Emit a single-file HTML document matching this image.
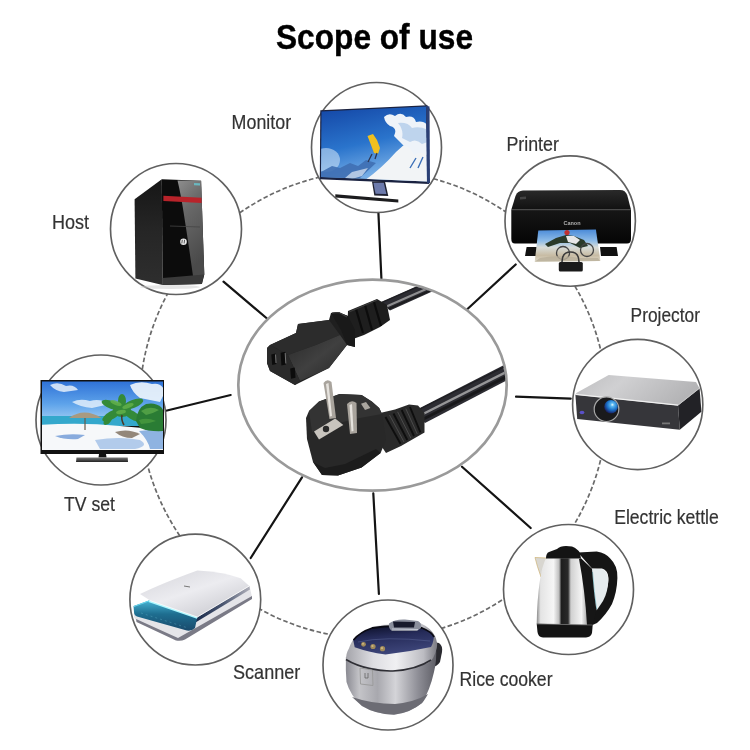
<!DOCTYPE html>
<html><head><meta charset="utf-8">
<style>
html,body{margin:0;padding:0;background:#fff;width:750px;height:750px;overflow:hidden}
svg{display:block;will-change:transform;filter:blur(0.3px)}
text{font-family:"Liberation Sans",sans-serif}
</style></head>
<body>
<svg width="750" height="750" viewBox="0 0 750 750">
<rect width="750" height="750" fill="#ffffff"/>
<!-- title -->
<text x="276" y="49" font-size="35" font-weight="bold" fill="#000" stroke="#000" stroke-width="0.4" textLength="197" lengthAdjust="spacingAndGlyphs">Scope of use</text>
<!-- labels -->
<g fill="#333" font-size="20.6" stroke="#333" stroke-width="0.2">
<text x="231.6" y="129.1" textLength="59.5" lengthAdjust="spacingAndGlyphs">Monitor</text>
<text x="52.0" y="228.5" textLength="37.1" lengthAdjust="spacingAndGlyphs">Host</text>
<text x="506.4" y="150.7" textLength="52.5" lengthAdjust="spacingAndGlyphs">Printer</text>
<text x="630.6" y="322.3" textLength="69.3" lengthAdjust="spacingAndGlyphs">Projector</text>
<text x="614.2" y="524.4" textLength="104.6" lengthAdjust="spacingAndGlyphs">Electric kettle</text>
<text x="459.5" y="685.7" textLength="93.0" lengthAdjust="spacingAndGlyphs">Rice cooker</text>
<text x="233.0" y="678.6" textLength="67.3" lengthAdjust="spacingAndGlyphs">Scanner</text>
<text x="64.0" y="511.2" textLength="51.0" lengthAdjust="spacingAndGlyphs">TV set</text>
</g>
<!-- dashed circle -->
<circle cx="373.4" cy="404.7" r="233.8" fill="none" stroke="#6a6a6a" stroke-width="1.7" stroke-dasharray="4.6 2.4"/>
<!-- connector lines -->
<g stroke="#141414" stroke-width="2.2" stroke-linecap="round">
<line x1="378.4" y1="212.6" x2="381.4" y2="278.5"/>
<line x1="467.2" y1="309.3" x2="515.7" y2="264.5"/>
<line x1="516" y1="396.7" x2="570.7" y2="398.7"/>
<line x1="462" y1="466.7" x2="530.7" y2="528"/>
<line x1="373.3" y1="493.3" x2="378.9" y2="594"/>
<line x1="302" y1="477.3" x2="250.7" y2="558"/>
<line x1="166" y1="410.7" x2="230.7" y2="395"/>
<line x1="223.5" y1="281.7" x2="267" y2="318.5"/>
</g>
<!-- central ellipse -->
<ellipse cx="372.5" cy="385.1" rx="134.2" ry="105.5" fill="#fff" stroke="#9a9a9a" stroke-width="2.7"/>
<!-- central cord -->
<g id="cord">
<defs>
<linearGradient id="cab" x1="0" y1="0" x2="0" y2="1">
<stop offset="0" stop-color="#111"/><stop offset="0.45" stop-color="#444"/><stop offset="0.6" stop-color="#666"/><stop offset="1" stop-color="#111"/>
</linearGradient>
<linearGradient id="side13" x1="0" y1="0" x2="1" y2="1">
<stop offset="0" stop-color="#2a2a2a"/><stop offset="0.5" stop-color="#404040"/><stop offset="1" stop-color="#262626"/>
</linearGradient>
</defs>
<!-- upper cable -->
<clipPath id="ellclip"><ellipse cx="372.5" cy="385.1" rx="133" ry="104.3"/></clipPath>
<g clip-path="url(#ellclip)">
<path d="M381,302 L445,273.8 L445,285.8 L390,310.4 Z" fill="#2c2c32"/>
<path d="M386.5,306.6 L445,280.8" stroke="#8e8e90" stroke-width="2.2" fill="none"/>
<path d="M388.5,309 L445,284" stroke="#1c1c1e" stroke-width="1.8" fill="none"/>
<path d="M382,302.5 L445,274.8" stroke="#1e1e22" stroke-width="1.2" fill="none"/>
</g>
<!-- ribbed neck -->
<path d="M348,311 L377,299 L387,305 L390,320 L380,327 L364,335 L353,339 L347,335 Z" fill="#1e1e1e"/>
<path d="M356,309 L363,333 M365,305 L372,330 M374,302 L381,326" stroke="#0c0c0c" stroke-width="2.2" fill="none"/>
<path d="M349,312 L377,300" stroke="#3c3c3c" stroke-width="1.2" fill="none"/>
<!-- C13 body silhouette -->
<path d="M267,348 L270,345 L296,333 L298,324 L329,320 L331,313 L338,312 L348,316 L355,330 L355,347 L347,345 L329,368 L295,385 L270,371 L267,363 Z" fill="#1f1f1f"/>
<!-- top face -->
<path d="M270,345 L296,333 L298,324 L329,320 L340,335 L316,345 L288,355 Z" fill="#2c2c2c"/>
<!-- lit side face -->
<path d="M288,355 L316,345 L340,335 L347,345 L329,368 L300,381 Z" fill="url(#side13)"/>
<!-- collar -->
<path d="M331,313 L338,312 L348,316 L355,330 L355,347 L347,345 L341,330 Z" fill="#191919"/>
<path d="M332,313 L339,312.5 L347,317" stroke="#3e3e3e" stroke-width="1.2" fill="none"/>
<!-- front face -->
<path d="M267,348 L270,345 L288,355 L300,381 L295,385 L270,371 L267,363 Z" fill="#2a2a2a"/>
<g fill="#0c0c0c">
<path d="M271.3,354.5 L275.5,353.5 L276.3,364 L272.2,365 Z"/>
<path d="M280.6,352.8 L285.2,351.8 L286,364.6 L281.4,365.6 Z"/>
<path d="M290.2,368.4 L294.8,367.4 L295.5,377.8 L291,378.8 Z"/>
</g>
<g stroke="#8a8a8a" stroke-width="0.8" fill="none">
<path d="M285.2,353 L285.8,363.5"/>
<path d="M275.5,354.5 L276,363"/>
</g>
<!-- lower cable -->
<g clip-path="url(#ellclip)">
<path d="M414,411 L512,361 L512,377.5 L425,423 Z" fill="#2c2c32"/>
<path d="M419.5,415.8 L512,369" stroke="#959597" stroke-width="2.4" fill="none"/>
<path d="M422.5,419.5 L512,374" stroke="#18181a" stroke-width="3" fill="none"/>
<path d="M415,411.5 L512,363" stroke="#1e1e22" stroke-width="1.2" fill="none"/>
</g>
<!-- schuko strain relief -->
<path d="M380,413 L395,409.5 L409,404.5 L418,405.5 L424.5,413 L424.5,432.5 L401,446 L386,453 L378,441 Z" fill="#2a2a2a"/>
<g stroke="#0e0e0e" stroke-width="1.9" fill="none">
<path d="M385.5,417 L400.5,443.8"/>
<path d="M393.5,413.5 L407.3,440"/>
<path d="M401.7,410 L414,436"/>
<path d="M410,407 L420.4,432.3"/>
</g>
<g stroke="#4a4a4a" stroke-width="1" fill="none">
<path d="M389.5,415 L404,442"/>
<path d="M397.6,411.8 L410.8,438"/>
<path d="M405.8,408.6 L417.3,434"/>
</g>
<!-- schuko body -->
<path d="M306,418 L309,411 L319,401.5 L339.6,394 L361.6,395 L371.8,401.5 L379.2,408 L382,414 L386,440 L380.6,453 L361.6,467.5 L338,475.5 L322,475 L313,462 L307,439 Z" fill="#282828"/>
<path d="M309,411 L319,401.5 L339.6,394 L361.6,395 L371.8,401.5 L379.2,408 L382,414 L360,418 L330,425 L312,432 Z" fill="#333"/>
<path d="M313,462 L322,475 L338,475.5 L361.6,467.5 L380.6,453 L376,449 L345,464 L325,468 Z" fill="#1c1c1c"/>
<!-- earth clip -->
<path d="M314,431.6 L335.2,418.4 L343.3,425 L319,439.6 Z" fill="#c8c4be"/>
<circle cx="326" cy="429" r="3.2" fill="#2a2a2a"/>
<path d="M361,403.7 L366,402 L370.4,408 L365,410 Z" fill="#aaa69f"/>
<!-- pins -->
<path d="M323.5,383 Q327,378 331.5,382 L336,418 L329.5,419 Z" fill="#a9a49d"/>
<path d="M326,384 L328.5,383 L332,416 L330,416.5 Z" fill="#e6e3de"/>
<path d="M347,404 Q351.5,399 356.5,403 L357,433 L350,434 Z" fill="#a9a49d"/>
<path d="M349.5,405 L352,404 L353.5,431 L351.5,431.5 Z" fill="#e6e3de"/>
</g>
<!-- satellites -->
<g fill="#fff" stroke="#606060" stroke-width="1.65">
<circle cx="376.5" cy="147.5" r="65"/>
<circle cx="176" cy="229" r="65.5"/>
<circle cx="570.2" cy="221" r="65.2"/>
<circle cx="637.7" cy="404.5" r="65.1"/>
<circle cx="568.5" cy="589.5" r="65"/>
<circle cx="388" cy="665" r="65"/>
<circle cx="195.3" cy="599.6" r="65.4"/>
<circle cx="101" cy="420" r="65"/>
</g>
<!-- monitor -->
<g id="monitor">
<defs>
<linearGradient id="msky" x1="0" y1="0" x2="0.3" y2="1">
<stop offset="0" stop-color="#0f3d9e"/><stop offset="0.55" stop-color="#2a74cc"/><stop offset="1" stop-color="#8fc0ee"/>
</linearGradient>
<clipPath id="mclip"><path d="M321.5,111.5 L426,106.5 L427,181.5 L321,177 Z"/></clipPath>
</defs>
<path d="M320.3,110.2 L427.5,105.2 L429,184 L319.8,179.2 Z" fill="#1a2240"/>
<g clip-path="url(#mclip)">
<rect x="315" y="100" width="120" height="90" fill="url(#msky)"/>
<ellipse cx="326" cy="160" rx="14" ry="12" fill="#d6e8f8" opacity="0.55"/>
<path d="M321,172 L332,166 L340,168 L350,163 L358,166 L366,160 L376,163 L360,178 L321,180 Z" fill="#3f6fb3" opacity="0.9"/>
<path d="M364,181 Q382,168 396,152 Q412,136 428,138 L428,185 Z" fill="#f2f4f6"/>
<path d="M345,178 L352,172 L360,170 L368,168 L362,176 L352,179 Z" fill="#dfeaf5" opacity="0.7"/>
<path d="M384,117 Q389,112 395,116 Q401,111 406,117 Q414,115 416,122 Q424,120 428,126 L428,156 Q421,150 414,155 Q410,146 404,146 Q398,140 394,136 Q398,128 390,126 Q385,123 384,117 Z" fill="#eef3f9"/>
<path d="M398,123 Q404,130 402,138 L410,142 Q416,138 422,144 L428,142 L428,130 Q420,126 412,128 Q408,122 398,123 Z" fill="#a9c6e8" opacity="0.7"/>
<path d="M367.5,136 L373,134 L377,140 L380,148 L378,154 L374,153 L371,145 Z" fill="#f0c01e"/>
<path d="M372,154 L368,162 M377,153 L375,159" stroke="#2d3550" stroke-width="1.3"/>
<path d="M410,168 L416,158 M418,168 L423,157" stroke="#3b6fb8" stroke-width="1.4"/>
</g>
<path d="M426,105.7 L429.5,106.5 L430,183 L427,183.5 Z" fill="#2b3f74"/>
<path d="M372,181.5 L385,181.5 L388.3,196 L374.3,195.6 Z" fill="#1e2030"/>
<path d="M373.4,182.8 L383.8,182.8 L386.4,194 L375.5,193.8 Z" fill="#6c7aac"/>
<path d="M335.3,194.3 L398.3,199.4 L398.3,202.4 L335.3,197.4 Z" fill="#1c1c1e"/>
</g>
<!-- host -->
<g id="host">
<defs>
<linearGradient id="hside" x1="0" y1="0" x2="0" y2="1">
<stop offset="0" stop-color="#161616"/><stop offset="0.5" stop-color="#262626"/><stop offset="1" stop-color="#2e2e2e"/>
</linearGradient>
<linearGradient id="hrefl" x1="0" y1="0" x2="0.3" y2="1">
<stop offset="0" stop-color="#8e8e8e"/><stop offset="0.35" stop-color="#6a6a6a"/><stop offset="1" stop-color="#4a4a4a"/>
</linearGradient>
</defs>
<path d="M134.6,199.2 L161.8,179.2 L162.6,284.9 L135.4,278.5 Z" fill="url(#hside)"/>
<path d="M161.8,179.2 L201.1,180.8 L204.3,274.5 L201.9,284.1 L162.6,284.9 Z" fill="#0c0c0c"/>
<path d="M177.5,180.5 L201.1,180.8 L204.3,274.5 L203,276 L193,276 Q188,240 184,215 Q181,195 177.5,180.5 Z" fill="url(#hrefl)"/>
<path d="M163.4,195.8 L201.5,197.8 L201.6,203 L163.4,201 Z" fill="#b8232a"/>
<path d="M194,183 L200,183.3 L200,185.5 L194,185.2 Z" fill="#6ab8c0"/>
<path d="M170,226 L200,227" stroke="#444" stroke-width="0.8"/>
<circle cx="183.5" cy="241.7" r="3.3" fill="#e8e8e8"/>
<path d="M182.3,239.8 L181.8,243.5 M184.6,239.8 L184.1,243.5" stroke="#333" stroke-width="0.8"/>
<path d="M162.6,278 L204,274.5 L201.9,284.1 L162.6,284.9 Z" fill="#3a3a3a"/>
<ellipse cx="170" cy="287" rx="30" ry="2" fill="#ccc" opacity="0.5"/>
</g>
<!-- printer -->
<g id="printer">
<defs>
<linearGradient id="ptop" x1="0" y1="0" x2="0" y2="1">
<stop offset="0" stop-color="#2a2a2a"/><stop offset="1" stop-color="#111"/>
</linearGradient>
<linearGradient id="pfront" x1="0" y1="0" x2="0" y2="1">
<stop offset="0" stop-color="#161616"/><stop offset="1" stop-color="#050505"/>
</linearGradient>
<linearGradient id="photo" x1="0" y1="0" x2="0" y2="1">
<stop offset="0" stop-color="#4a8ad8"/><stop offset="0.35" stop-color="#8ebce8"/><stop offset="0.55" stop-color="#d8dcd8"/><stop offset="0.8" stop-color="#c8bca4"/><stop offset="1" stop-color="#e0dccc"/>
</linearGradient>
</defs>
<path d="M526.6,247 L543,247 L544,256 L525,256 Z" fill="#111"/>
<path d="M600,247 L616.6,247 L618,256 L601,256 Z" fill="#111"/>
<path d="M511.3,209.7 L631,209.7 L631,239 Q631,243.5 627,243.5 L515,243.5 Q511.3,243.5 511.3,239 Z" fill="url(#pfront)"/>
<path d="M511.3,209.7 L515.5,196 Q517.5,190.8 523,190.6 L620,189.9 Q625.5,190 627.2,195 L631,209.7 Z" fill="url(#ptop)"/>
<path d="M512,209.7 L630.5,209.7" stroke="#4a4a4a" stroke-width="1.3"/>
<path d="M520,197 L526,196.5 L526,199 L520,199.5 Z" fill="#444"/>
<text x="572" y="225" font-size="5.5" font-weight="bold" fill="#b0b0b0" text-anchor="middle">Canon</text>
<path d="M538.3,230.4 L595.9,229.5 L600.4,261 L534.7,261.9 Z" fill="url(#photo)"/>
<path d="M545,244 L556,238 L566,235 L574,236 L584,240 L588,246 L580,248 L570,243 L560,243 L548,247 Z" fill="#2a3a2a"/>
<path d="M566,236 L574,236 L580,240 L576,244 L568,242 Z" fill="#e8e8e8"/>
<circle cx="567" cy="232.5" r="2.6" fill="#c03030"/>
<circle cx="563" cy="253" r="6.5" fill="none" stroke="#444" stroke-width="1.3"/>
<circle cx="587" cy="250" r="6.5" fill="none" stroke="#444" stroke-width="1.3"/>
<path d="M540,258 Q560,254 580,258 L598,258 L600,261 L535,261.5 Z" fill="#b8ae98" opacity="0.8"/>
<rect x="558.8" y="262" width="24" height="9.6" rx="1.5" fill="#1a1a1a"/>
<path d="M562,262 Q562,252 570.5,252 Q579,252 579,262" stroke="#3a3a3a" stroke-width="1.6" fill="none"/>
</g>
<!-- projector -->
<g id="projector">
<defs>
<linearGradient id="jtop" x1="0" y1="0" x2="1" y2="0.3">
<stop offset="0" stop-color="#bdbdbf"/><stop offset="0.4" stop-color="#d0d0d2"/><stop offset="1" stop-color="#b4b4b6"/>
</linearGradient>
<radialGradient id="lens" cx="0.6" cy="0.35" r="0.65">
<stop offset="0" stop-color="#e8fbff"/><stop offset="0.2" stop-color="#5ab8f0"/><stop offset="0.6" stop-color="#1a70c8"/><stop offset="1" stop-color="#1a1f60"/>
</radialGradient>
</defs>
<path d="M576.3,392.9 L608.7,374.9 L696,382.1 L699.6,388.4 L678,405.5 L575.5,395 Z" fill="url(#jtop)"/>
<path d="M575.4,394.7 L678,405.5 L679.8,429.8 L577.2,419 Z" fill="#36363a"/>
<path d="M678,405.5 L699.6,388.4 L701.4,411.8 L679.8,429.8 Z" fill="#222226"/>
<path d="M575.5,394.4 L678,405.1" stroke="#f0f0f0" stroke-width="1.4" fill="none"/><path d="M678,405.1 L699.6,388" stroke="#c8c8c8" stroke-width="1" fill="none"/>
<circle cx="606.5" cy="409.2" r="12.3" fill="#1a1a1c" stroke="#a8a8a8" stroke-width="1.2"/>
<circle cx="611" cy="406.8" r="6.8" fill="url(#lens)"/>
<ellipse cx="582" cy="412.5" rx="2.4" ry="1.8" fill="#5a50c8"/>
<rect x="662" y="422.5" width="8" height="1.8" fill="#777"/>
</g>
<!-- kettle -->
<g id="kettle">
<defs>
<linearGradient id="steel" x1="0" y1="0" x2="1" y2="0">
<stop offset="0" stop-color="#8a8a8a"/><stop offset="0.07" stop-color="#e4e4e4"/><stop offset="0.3" stop-color="#f6f6f6"/><stop offset="0.4" stop-color="#bdbdbd"/><stop offset="0.44" stop-color="#1e1e1e"/><stop offset="0.56" stop-color="#2a2a2a"/><stop offset="0.61" stop-color="#d0d0d0"/><stop offset="0.8" stop-color="#f4f4f4"/><stop offset="0.9" stop-color="#aaa"/><stop offset="1" stop-color="#555"/>
</linearGradient>
</defs>
<!-- handle -->
<path d="M578,552.5 L596.7,551.5 Q606,553 610,558.3 Q618,566 617.4,578 Q617,592 612,604 Q606,615 597,623 L588,627 L590,612 Q598,606 603,597 Q608.5,588 608.5,578 Q608,570 602,568.5 L592,568.5 Z" fill="#151515"/>
<path d="M592,568.8 L603,569.2 Q608,572 608.3,580 Q608,592 603,601 Q599,607 596.5,610.5 Q594,595 592,580 Z" fill="#e6ecee"/>
<path d="M592.5,572 Q594,592 596.5,609" stroke="#5ab0bc" stroke-width="0.9" fill="none" opacity="0.7"/>
<!-- spout -->
<path d="M535,557.5 L547,558 L541,577 Q537,566 535,557.5 Z" fill="#d8d6d0" stroke="#c8a860" stroke-width="0.6"/>
<!-- body -->
<path d="M546,558.3 L581,558.3 Q587,575 590,600 L592.7,625 L536.7,624 Q537,600 540,580 Q542,566 546,558.3 Z" fill="url(#steel)"/>
<path d="M581,558.3 L592,568.8 Q594,595 596.5,610.5 L592.7,625 L587,625 Q585,590 579,559 Z" fill="#161616"/>
<!-- lid -->
<path d="M546,558.5 Q546,553 549,552 L557,549 Q560,546 566,546 L572,546.5 Q578,549 580,553 L581,558.5 Z" fill="#141414"/>
<!-- base -->
<path d="M536.7,623.7 L592.7,625 L592,633 Q591,637 586,637.5 L543,637.5 Q538,637 537.5,632 Z" fill="#141414"/>
<path d="M537,624 L592.5,625" stroke="#777" stroke-width="0.7"/>
</g>
<!-- rice cooker -->
<g id="rice">
<defs>
<linearGradient id="rbody" x1="0" y1="0" x2="1" y2="0">
<stop offset="0" stop-color="#8a8a92"/><stop offset="0.15" stop-color="#c4c4c8"/><stop offset="0.35" stop-color="#a8a8ae"/><stop offset="0.55" stop-color="#d4d4d8"/><stop offset="0.8" stop-color="#8e8e96"/><stop offset="1" stop-color="#5e5e66"/>
</linearGradient>
<linearGradient id="rband" x1="0" y1="0" x2="1" y2="0">
<stop offset="0" stop-color="#a4a4aa"/><stop offset="0.3" stop-color="#dedee2"/><stop offset="0.55" stop-color="#f0f0f2"/><stop offset="0.85" stop-color="#bcbcc2"/><stop offset="1" stop-color="#7a7a82"/>
</linearGradient>
<linearGradient id="rlid" x1="0" y1="0" x2="0.3" y2="1">
<stop offset="0" stop-color="#0a0d24"/><stop offset="0.45" stop-color="#262c5a"/><stop offset="1" stop-color="#3c4478"/>
</linearGradient>
</defs>
<!-- side handle -->
<path d="M433,642 L439,643 Q443,646 442,652 L440,662 Q437,667 431,667 Z" fill="#2a2a30"/>
<!-- lower body -->
<path d="M345.9,657 L436,647 Q437,660 434,672 Q430,690 422,703 Q410,713 394,714.7 Q375,714 362,706 Q350,695 346.5,682 Q345.5,670 345.9,657 Z" fill="url(#rbody)"/>
<!-- base band -->
<path d="M352,697 Q372,704 395,704 Q415,702 428,694 Q424,701 422,703 Q410,713 394,714.7 Q375,714 362,706 Z" fill="#6c6c74"/>
<!-- lid silver ring -->
<path d="M348.8,648.7 Q352,640 356,636 L372,627 Q396,621 420,623 Q431,628 435,636 Q438,643 436.8,648 Q434,660 428,663 Q410,670 391,670.7 Q365,668 346,660 Q346,653 348.8,648.7 Z" fill="url(#rband)"/>
<!-- dark seam -->
<path d="M346,659.5 C360,668 380,671.5 393,671 C410,670 422,666 431,660" stroke="#2e2e34" stroke-width="1.6" fill="none"/>
<!-- navy lid top -->
<path d="M353.2,640 Q360,632 372.3,628 Q396,624 422,628 Q432,632 433.9,637 Q433,644 431,647 Q408,652 385.5,654.5 Q368,652 354.7,647.2 Z" fill="url(#rlid)"/>
<path d="M353.5,640 Q360,632 372.3,628 Q396,624 422,628 Q432,632 434,637" stroke="#0a0a14" stroke-width="1.8" fill="none"/>
<path d="M358,642 Q385,636 430,641" stroke="#6a76a8" stroke-width="0.8" fill="none" opacity="0.5"/>
<!-- top handle with display -->
<path d="M389,623.5 Q395,619 405,619.5 L418,621 Q422,623 421,628 L417,631 L392,631 Q388,628 389,623.5 Z" fill="#8a8e9c"/>
<path d="M393,621.5 L415,622 L414,627.5 L394,627.5 Z" fill="#181a2c"/>
<path d="M392,629 L418,629.5" stroke="#c8ccd8" stroke-width="1" />
<!-- buttons -->
<g fill="#a08a5a"><circle cx="363.5" cy="644.3" r="2.4"/><circle cx="373" cy="646.5" r="2.6"/><circle cx="382.5" cy="648.7" r="2.6"/></g>
<g fill="#e0c890" opacity="0.7"><circle cx="363" cy="643.8" r="1"/><circle cx="372.5" cy="646" r="1.1"/><circle cx="382" cy="648.2" r="1.1"/></g>
<!-- label -->
<path d="M360,668 L372.5,670 L373,685.5 L360.5,684 Z" fill="none" stroke="#999" stroke-width="0.9"/>
<path d="M365,673 L365,678 L368,678 L368,673" stroke="#666" stroke-width="0.8" fill="none"/>
</g>
<!-- scanner -->
<g id="scanner">
<defs>
<linearGradient id="slid" x1="0" y1="0" x2="0.8" y2="1">
<stop offset="0" stop-color="#d4d4da"/><stop offset="0.5" stop-color="#ececf0"/><stop offset="1" stop-color="#c8c8ce"/>
</linearGradient>
<linearGradient id="steal" x1="0" y1="0" x2="0" y2="1">
<stop offset="0" stop-color="#48b4d4"/><stop offset="0.45" stop-color="#1e6e90"/><stop offset="1" stop-color="#1a4a6c"/>
</linearGradient>
<linearGradient id="swedge" x1="0" y1="0" x2="1" y2="0">
<stop offset="0" stop-color="#1a2a4c"/><stop offset="0.5" stop-color="#4a5670"/><stop offset="1" stop-color="#b0b0ba"/>
</linearGradient>
</defs>
<!-- base body -->
<path d="M134,607 L150,600 L249.5,586 L252,597 L186,637 Q182,640.5 177,639.5 L137,621 Q133,618 134,612 Z" fill="#e4e4e8"/>
<path d="M136,619 L178,638 L252,596 L252,599 L185,639.5 Q181,641.5 176,640.5 L136.5,622 Z" fill="#7a7a86"/>
<!-- dark wedge -->
<path d="M196,617 L249.3,586 L250,589.5 L195.5,622.5 Z" fill="url(#swedge)"/>
<!-- teal panel -->
<path d="M133.5,606 L148.8,600.5 L197.3,617.2 L195,628 Q191,632 185,630 L137,616.5 Q134,615 134,612 Z" fill="url(#steal)"/>
<path d="M148.8,601 L197.3,617.6" stroke="#aef8ff" stroke-width="2.2"/>
<path d="M134,606.5 L148.8,601" stroke="#6ad8ee" stroke-width="1"/>
<path d="M141,613 L188,628" stroke="#6abcd0" stroke-width="0.7" opacity="0.5" stroke-dasharray="2 3"/>
<!-- lid -->
<path d="M140,594 Q160,584 197.3,570.4 Q225,572 240.7,578.2 L249.3,586 L197.3,617.2 L150.5,600.7 Z" fill="url(#slid)"/>
<path d="M150,600.6 L197.3,617 L249.3,586" stroke="#fbfbfb" stroke-width="0.9" fill="none"/>
<path d="M184,586 L190,587" stroke="#777" stroke-width="1"/>
</g>
<!-- tv -->
<g id="tv">
<defs>
<linearGradient id="tsky" x1="0" y1="0" x2="0" y2="1">
<stop offset="0" stop-color="#2c6fd6"/><stop offset="0.6" stop-color="#5ea3ea"/><stop offset="1" stop-color="#9ccaf2"/>
</linearGradient>
<linearGradient id="tstand" x1="0" y1="0" x2="0" y2="1">
<stop offset="0" stop-color="#777"/><stop offset="1" stop-color="#222"/>
</linearGradient>
<clipPath id="tclip"><rect x="42" y="381.5" width="121" height="68.8"/></clipPath>
</defs>
<rect x="40.5" y="380" width="123.5" height="74" fill="#111"/>
<g clip-path="url(#tclip)">
<rect x="40" y="380" width="125" height="40" fill="url(#tsky)"/>
<path d="M50,385 Q58,381 66,386 Q74,384 78,390 L64,392 Q55,391 50,385 Z" fill="#e6f0fa" opacity="0.85"/>
<path d="M72,402 Q80,398 90,401 Q100,398 110,404 L92,408 Q80,407 72,402 Z" fill="#e8f2fb" opacity="0.8"/>
<path d="M130,385 Q140,380 152,384 Q162,382 165,392 L160,402 Q150,400 140,398 Q132,392 130,385 Z" fill="#f0f6fc" opacity="0.9"/>
<rect x="40" y="416" width="125" height="10" fill="#34a8cc"/>
<path d="M40,425 Q80,422 120,426 L165,430 L165,450 L40,450 Z" fill="#f6f8fa"/>
<path d="M55,436 Q70,433 85,435 L78,439 Q65,440 55,436 Z" fill="#5a8ad0" opacity="0.7"/>
<path d="M95,440 Q120,436 140,440 Q150,446 135,449 L100,449 Z" fill="#7aa6de" opacity="0.55"/>
<path d="M139,431 Q150,430 165,428 L165,449 L150,449 Q148,440 139,431 Z" fill="#4a86d0" opacity="0.6"/>
<path d="M69,418 Q84,407 101.6,418 Z" fill="#a89a80"/>
<path d="M85,418 L85,430" stroke="#6a5a48" stroke-width="1.2"/>
<g fill="#348a38">
<ellipse cx="112" cy="405" rx="11" ry="4" transform="rotate(20 112 405)"/>
<ellipse cx="133" cy="404" rx="11" ry="4" transform="rotate(-22 133 404)"/>
<ellipse cx="112" cy="415" rx="11" ry="4" transform="rotate(-30 112 415)"/>
<ellipse cx="132" cy="415" rx="11" ry="4" transform="rotate(32 132 415)"/>
<ellipse cx="122" cy="401" rx="4" ry="7"/>
<ellipse cx="122" cy="410" rx="9" ry="7"/>
<ellipse cx="108" cy="420" rx="6" ry="3" transform="rotate(-50 108 420)"/>
</g>
<g fill="#62b04a" opacity="0.85">
<ellipse cx="116" cy="403" rx="6" ry="2.2" transform="rotate(20 116 403)"/>
<ellipse cx="128" cy="406" rx="6" ry="2.2" transform="rotate(-20 128 406)"/>
<ellipse cx="121" cy="412" rx="5" ry="2" transform="rotate(-10 121 412)"/>
</g>
<path d="M122,415 Q121,420 124,425" stroke="#4a3a28" stroke-width="1.6" fill="none"/>
<path d="M136,421 Q137,408 146,404 Q155,402 161,407 L164,411 L164,431 Q150,432 140,428 Z" fill="#2a7c34"/>
<path d="M141,411 Q150,405 159,410 Q152,414 146,415 Z" fill="#5aa84a" opacity="0.8"/>
<path d="M139,420 Q147,417 156,421 Q148,424 141,424 Z" fill="#4a9a3e" opacity="0.8"/>
<path d="M115,432 Q128,428 140,434 L132,438 Q122,438 115,432 Z" fill="#7a6a5a" opacity="0.8"/>
</g>
<path d="M99,454 L106,454 L106.5,457.5 L98.5,457.5 Z" fill="#111"/>
<path d="M76.5,457.5 L127.7,457.5 L128,462 L76,462 Z" fill="url(#tstand)"/>
</g>
</svg>
</body></html>
